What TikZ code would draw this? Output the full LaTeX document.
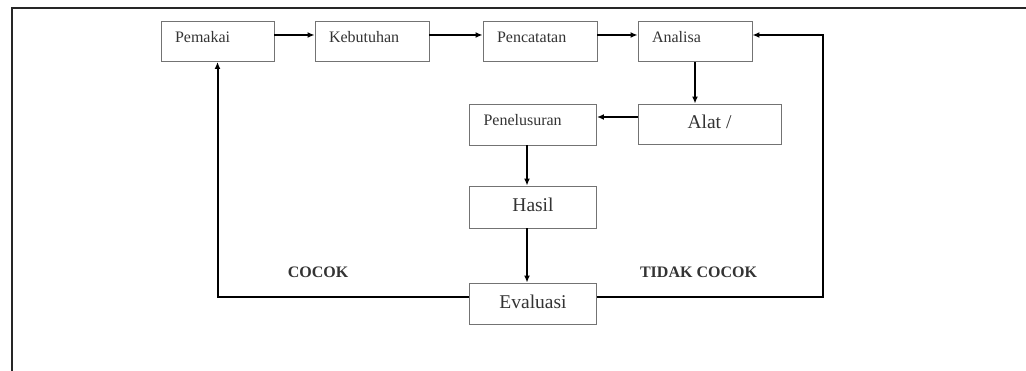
\documentclass[tikz,border=0pt]{standalone}
\usepackage{fontspec}
\setmainfont{Liberation Serif}
\usetikzlibrary{arrows.meta}
\begin{document}
\begin{tikzpicture}[x=1pt,y=-1pt,
  box/.style={draw=black!55,line width=0.9pt,minimum height=40pt,text=black!80,inner sep=0pt},
  smallbox/.style={box,font=\fontsize{16}{18}\selectfont,text width=86pt,inner xsep=14pt,align=left,text height=11pt,text depth=8pt},
  bigbox/.style={box,font=\fontsize{19.5}{22}\selectfont,minimum width=127pt,text height=14pt,text depth=4pt},
  flow/.style={line width=2pt,-{Latex[length=7pt,width=6pt]}},
  verdict/.style={font=\bfseries\fontsize{16}{18}\selectfont,text=black!80,anchor=base,inner sep=0pt}]
\useasboundingbox (0,0) rectangle (1026,371);
\draw[line width=2pt,black!85] (12,371) -- (12,8) -- (1026,8);
\node[smallbox,text width=85pt] (pemakai) at (217.5,41.5) {Pemakai};
\node[smallbox] (kebutuhan) at (372,41.5) {Kebutuhan};
\node[smallbox] (pencatatan) at (540,41.5) {Pencatatan};
\node[smallbox] (analisa) at (695,41.5) {Analisa};
\node[smallbox,text width=99pt,minimum height=41pt] (penelusuran) at (533,124.5) {Penelusuran};
\node[bigbox,minimum width=143pt] (alat) at (709.5,124) {Alat /};
\node[bigbox,minimum height=42pt] (hasil) at (533,207) {Hasil};
\node[bigbox,minimum height=41pt] (evaluasi) at (533,303.5) {Evaluasi};
\node[verdict] (cocok) at (318,278) {COCOK};
\node[verdict] (tidak) at (698.5,278) {TIDAK COCOK};
\draw[flow] ([yshift=6.5]pemakai.east) -- ([yshift=6.5]kebutuhan.west);
\draw[flow] ([yshift=6.5]kebutuhan.east) -- ([yshift=6.5]pencatatan.west);
\draw[flow] ([yshift=6.5]pencatatan.east) -- ([yshift=6.5]analisa.west);
\draw[flow] (analisa.south) -- (analisa.south |- alat.north);
\draw[flow] ([yshift=7]alat.west) -- ([yshift=7]alat.west -| penelusuran.east);
\draw[flow] ([xshift=-6]penelusuran.south) -- ([xshift=-6]hasil.north);
\draw[flow] ([xshift=-6]hasil.south) -- ([xshift=-6]evaluasi.north);
\draw[flow] ([yshift=6.5]evaluasi.west) -| (pemakai.south);
\coordinate (back) at (823,35);
\draw[flow] ([yshift=6.5]evaluasi.east) -| (back) -- (back -| analisa.east);
\end{tikzpicture}
\end{document}
